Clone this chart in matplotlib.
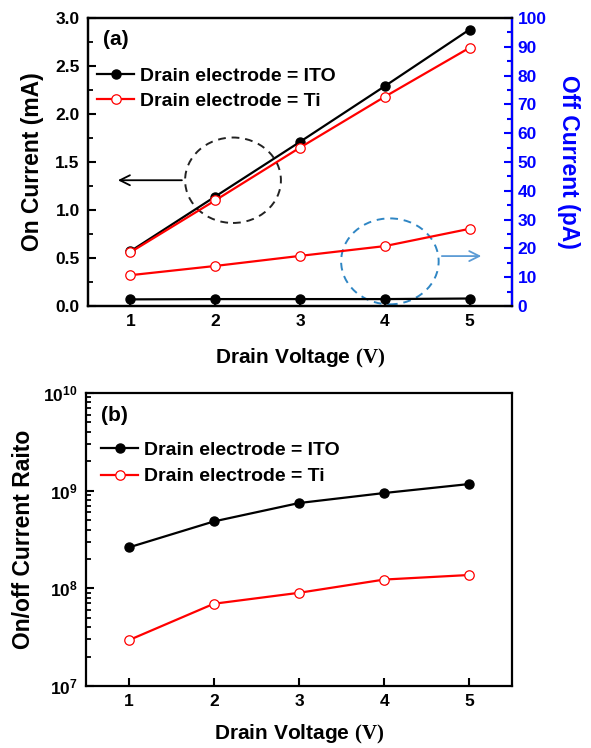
import matplotlib
matplotlib.use("Agg")
import matplotlib.pyplot as plt
from matplotlib.patches import Ellipse
from matplotlib.ticker import MultipleLocator, LogLocator, FixedLocator, NullFormatter

# ---- data ----
drain_v = [1, 2, 3, 4, 5]

# (a) on current, mA
on_ito = [0.57, 1.14, 1.71, 2.29, 2.88]
on_ti = [0.56, 1.10, 1.65, 2.18, 2.69]
# (a) off current, pA
off_ito = [2.3, 2.4, 2.4, 2.4, 2.6]
off_ti = [10.7, 13.9, 17.4, 20.8, 26.8]

# (b) on/off ratio
ratio_ito = [2.62e8, 4.84e8, 7.47e8, 9.46e8, 1.17e9]
ratio_ti = [2.94e7, 6.95e7, 9.0e7, 1.23e8, 1.37e8]

label_ito = "Drain electrode = ITO"
label_ti = "Drain electrode = Ti"

plt.rcParams["font.family"] = ["Liberation Sans", "DejaVu Sans"]
plt.rcParams["font.weight"] = "bold"
plt.rcParams["mathtext.fontset"] = "custom"
plt.rcParams["mathtext.rm"] = "Liberation Sans:bold"
plt.rcParams["mathtext.bf"] = "Liberation Sans:bold"
plt.rcParams["mathtext.cal"] = "Liberation Serif:bold"

W, H = 591, 748
fig = plt.figure(figsize=(W / 100, H / 100), dpi=100)


def box(l, t, r, b):
    return [l / W, 1 - b / H, (r - l) / W, (b - t) / H]


ito_style = dict(color="black", marker="o", markersize=6.5, lw=1.6,
                 markerfacecolor="black", markeredgecolor="black")
ti_style = dict(color="red", marker="o", markersize=6.8, lw=1.6,
                markerfacecolor="white", markeredgecolor="red", markeredgewidth=0.9)

TICK_FS = 12.5
LABEL_FS = 16.5
XLABEL_FS = 15
LEG_FS = 14

# ============ panel (a) ============
ax = fig.add_axes(box(88, 18, 512, 306))
ax2 = ax.twinx()

l1, = ax.plot(drain_v, on_ito, label=label_ito, **ito_style)
l2, = ax.plot(drain_v, on_ti, label=label_ti, **ti_style)
ax2.plot(drain_v, off_ito, **ito_style)
ax2.plot(drain_v, off_ti, **ti_style)

ax.set_xlim(0.5, 5.5)
ax.set_ylim(0, 3.0)
ax2.set_ylim(0, 100)
ax.set_xticks(drain_v)
ax.yaxis.set_major_locator(MultipleLocator(0.5))
ax.yaxis.set_minor_locator(MultipleLocator(0.25))
ax2.yaxis.set_major_locator(MultipleLocator(10))
ax2.yaxis.set_minor_locator(MultipleLocator(5))
ax.set_yticklabels([f"{v:.1f}" for v in ax.get_yticks()])

for a in (ax, ax2):
    for s in a.spines.values():
        s.set_linewidth(1.6)
ax2.spines["right"].set_color("blue")

ax.tick_params(axis="both", which="major", direction="in", length=6, width=1.5,
               labelsize=TICK_FS, pad=6)
ax.tick_params(axis="y", which="minor", direction="in", length=3.5, width=1.3)
ax2.tick_params(axis="y", which="both", direction="in", colors="blue",
                labelsize=TICK_FS, width=1.5)
ax2.tick_params(axis="y", which="major", length=6, pad=4)
ax2.tick_params(axis="y", which="minor", length=3.5)
for t in ax2.get_yticklabels():
    t.set_fontweight("bold")

ax.set_ylabel("On Current (mA)", fontsize=LABEL_FS, fontweight="bold", labelpad=8)
ax2.set_ylabel("Off Current (pA)", fontsize=LABEL_FS, fontweight="bold", color="blue",
               rotation=270, labelpad=24)
ax.set_xlabel(r"Drain Voltage $\mathcal{(V)}$", fontsize=XLABEL_FS, fontweight="bold",
              labelpad=13)

ax.text(0.035, 0.96, "(a)", transform=ax.transAxes, fontsize=15,
        fontweight="bold", va="top")
ax.legend(handles=[l1, l2], loc="upper left", bbox_to_anchor=(0.004, 0.856),
          frameon=False, fontsize=LEG_FS, handlelength=1.9, handletextpad=0.3,
          labelspacing=0.38, borderaxespad=0)

# dashed guide circles and arrows
ax.add_patch(Ellipse((2.21, 1.31), 1.13, 0.89, fill=False, ls=(0, (4, 3)),
                     lw=1.4, color="#222222"))
ax.annotate("", xy=(0.82, 1.31), xytext=(1.64, 1.31),
            arrowprops=dict(arrowstyle="->", color="black", lw=1.3,
                            mutation_scale=18))
ax.add_patch(Ellipse((4.06, 0.465), 1.15, 0.895, fill=False, ls=(0, (4, 3)),
                     lw=1.4, color="#2f86c4", clip_on=False))
ax.annotate("", xy=(5.17, 0.52), xytext=(4.64, 0.52),
            arrowprops=dict(arrowstyle="->", color="#5b9bd5", lw=1.3,
                            mutation_scale=18))

# ============ panel (b) ============
bx = fig.add_axes(box(86, 393, 512, 686))
m1, = bx.plot(drain_v, ratio_ito, label=label_ito, **ito_style)
m2, = bx.plot(drain_v, ratio_ti, label=label_ti, **ti_style)
bx.set_yscale("log")
bx.set_xlim(0.5, 5.5)
bx.set_ylim(1e7, 1e10)
bx.set_xticks(drain_v)
bx.yaxis.set_major_locator(FixedLocator([1e7, 1e8, 1e9, 1e10]))
bx.set_yticklabels([r"$\mathbf{10^{7}}$", r"$\mathbf{10^{8}}$",
                    r"$\mathbf{10^{9}}$", r"$\mathbf{10^{10}}$"])
bx.yaxis.set_minor_locator(LogLocator(base=10, subs=range(2, 10)))
bx.yaxis.set_minor_formatter(NullFormatter())
for s in bx.spines.values():
    s.set_linewidth(1.6)
bx.tick_params(axis="both", which="major", direction="in", length=6, width=1.5,
               labelsize=TICK_FS, pad=6)
bx.tick_params(axis="y", which="minor", direction="in", length=3.5, width=1.3)

bx.set_ylabel("On/off Current Raito", fontsize=LABEL_FS, fontweight="bold", labelpad=6)
bx.set_xlabel(r"Drain Voltage $\mathcal{(V)}$", fontsize=XLABEL_FS, fontweight="bold",
              labelpad=10)
bx.text(0.035, 0.955, "(b)", transform=bx.transAxes, fontsize=15,
        fontweight="bold", va="top")
bx.legend(handles=[m1, m2], loc="upper left", bbox_to_anchor=(0.018, 0.863),
          frameon=False, fontsize=LEG_FS, handlelength=1.9, handletextpad=0.3,
          labelspacing=0.48, borderaxespad=0)

fig.savefig("out.png", dpi=100)
